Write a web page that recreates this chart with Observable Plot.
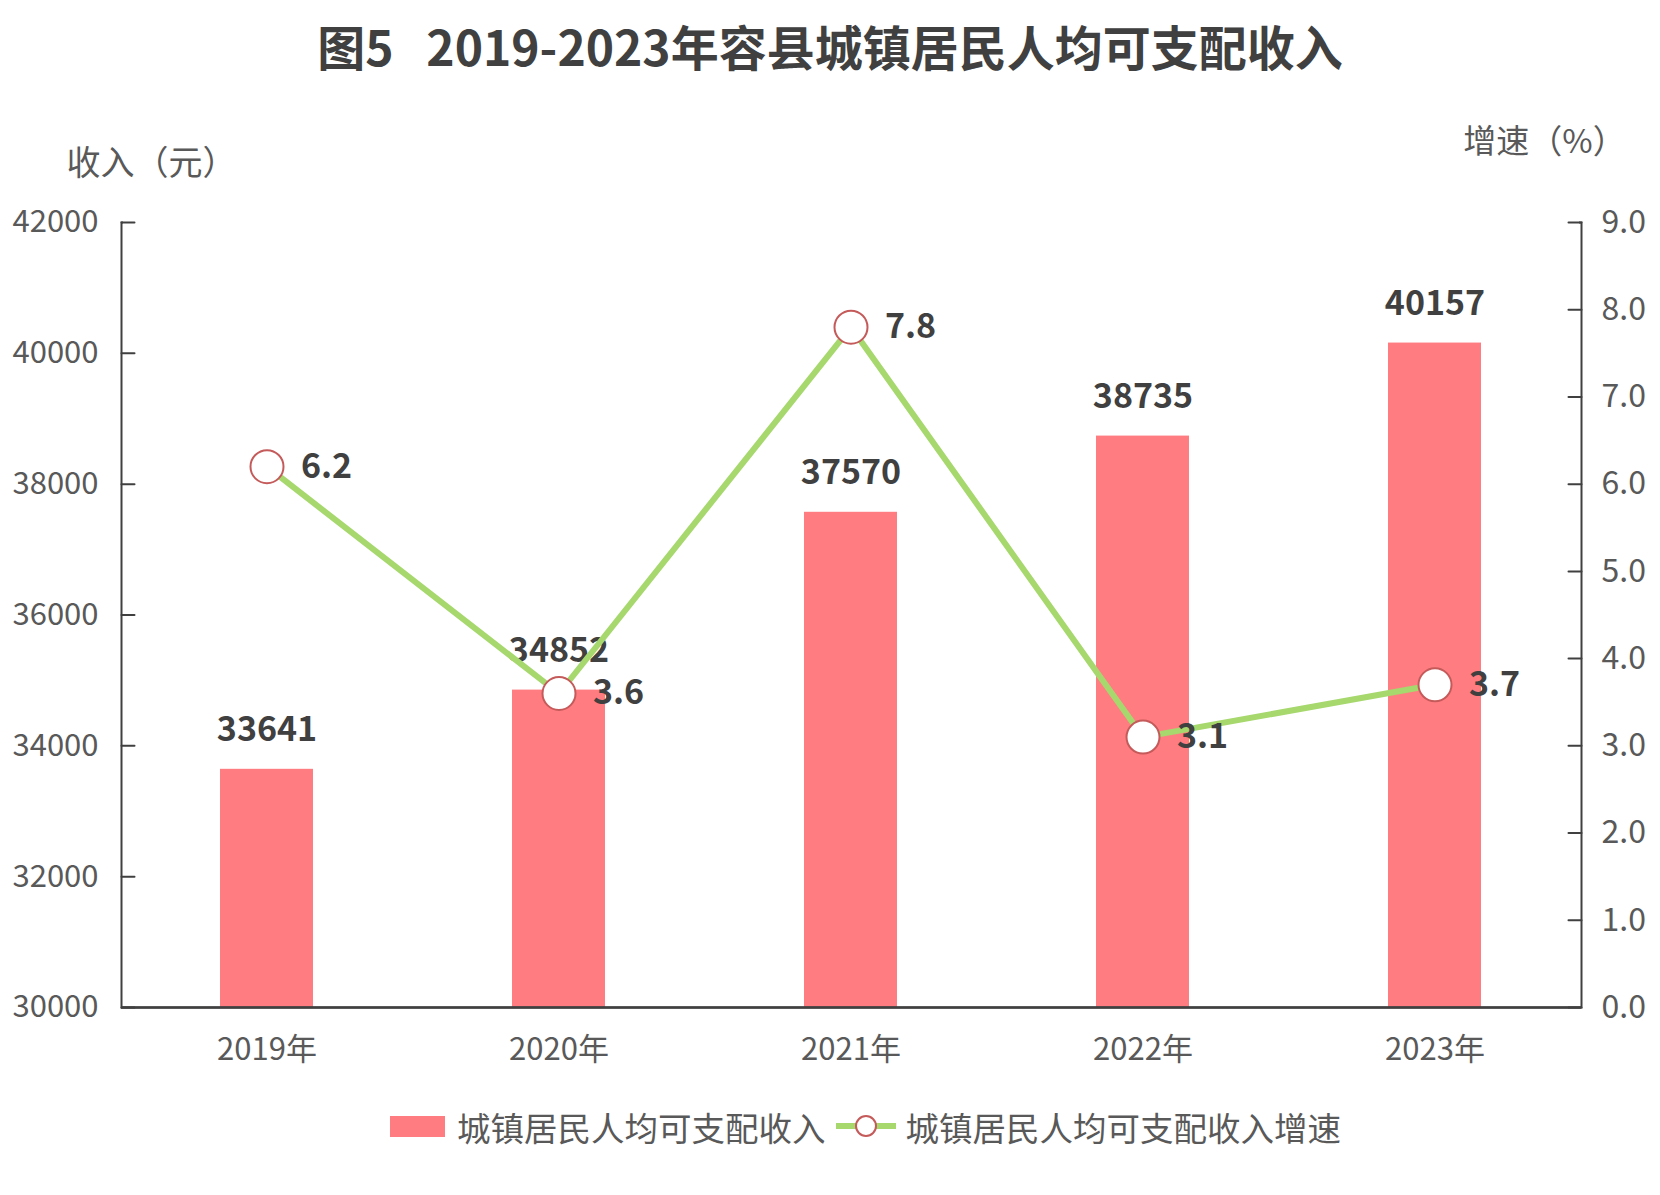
<!DOCTYPE html>
<html>
<head>
<meta charset="utf-8">
<script src="https://cdn.jsdelivr.net/npm/d3@7"></script>
<script src="https://cdn.jsdelivr.net/npm/@observablehq/plot@0.6"></script>
<style>
  html, body { margin: 0; padding: 0; background: #fff; }
  body { width: 1660px; height: 1195px; position: relative; font-family: "Noto Sans CJK SC", "Noto Sans", sans-serif; }
  #title { position: absolute; left: 0; top: 0; width: 1660px; height: 90px; line-height: 90px; text-align: center;
           font-size: 48px; font-weight: bold; color: #404040; white-space: pre; }
  #chart { position: absolute; left: 0; top: 96px; }
  #legend { position: absolute; left: 0; top: 1092px; width: 1660px; height: 68px; display: flex; align-items: center;
            font-size: 33.5px; color: #595959; }
  .sw-bar { width: 55px; height: 21px; background: #ff7c80; margin-left: 390px; margin-right: 12px; }
  .sw-line { position: relative; width: 60px; height: 30px; margin-left: 10px; margin-right: 10px; }
  .sw-line .ln { position: absolute; left: 0; top: 12px; width: 60px; height: 6px; background: #a6d86e; }
  .sw-line .ci { position: absolute; left: 19px; top: 4px; width: 18px; height: 18px; border: 2px solid #c55a5a; border-radius: 50%; background: #fff; }
</style>
</head>
<body>
<div id="title">图5   2019-2023年容县城镇居民人均可支配收入</div>
<div id="chart"></div>
<div id="legend">
  <div class="sw-bar"></div><span>城镇居民人均可支配收入</span>
  <div class="sw-line"><div class="ln"></div><div class="ci"></div></div><span>城镇居民人均可支配收入增速</span>
</div>
<script>
// ---- data ----
const years = ["2019年", "2020年", "2021年", "2022年", "2023年"];
const income = [33641, 34852, 37570, 38735, 40157];
const growth = [6.2, 3.6, 7.8, 3.1, 3.7];
const incomeTicks = [30000, 32000, 34000, 36000, 38000, 40000, 42000];
const growthTicks = [0, 1, 2, 3, 4, 5, 6, 7, 8, 9];
const incomeTitle = "收入（元）";
const growthTitle = "增速（%）";

const incomeMin = incomeTicks[0];
const incomeMax = incomeTicks[incomeTicks.length - 1];
const growthMax = growthTicks[growthTicks.length - 1];
const toY = g => incomeMin + g / growthMax * (incomeMax - incomeMin);
const fromY = v => (v - incomeMin) / (incomeMax - incomeMin) * growthMax;

const rows = years.map((year, i) => ({year, income: income[i], growth: growth[i]}));

const tickShape = {draw(context, l) { context.moveTo(0, 0); context.lineTo(0, -l); }};
const axisColor = "#404040";

const chart = Plot.plot({
  width: 1660,
  height: 1000,
  marginTop: 126,
  marginBottom: 89,
  marginLeft: 121,
  marginRight: 79,
  style: {fontFamily: '"Noto Sans CJK SC", "Noto Sans", sans-serif', fontSize: "31px", color: "#595959", background: "white"},
  x: {type: "band", domain: years, paddingInner: 0.68, paddingOuter: 0.34, label: null},
  y: {domain: [incomeMin, incomeMax], label: null},
  marks: [
    Plot.barY(rows, {x: "year", y1: () => incomeMin, y2: "income", fill: "#ff7c80"}),
    Plot.frame({stroke: axisColor, strokeWidth: 2}),
    Plot.ruleY([incomeMax], {stroke: "white", strokeWidth: 6, insetLeft: 2, insetRight: 2}),
    Plot.ruleY([incomeMin], {stroke: axisColor, strokeWidth: 2.5}),
    Plot.vector(incomeTicks, {y: d => d, frameAnchor: "left", rotate: 90, length: 13, anchor: "start", shape: tickShape, stroke: axisColor, strokeWidth: 2}),
    Plot.vector(growthTicks, {y: g => toY(g), frameAnchor: "right", rotate: -90, length: 13, anchor: "start", shape: tickShape, stroke: axisColor, strokeWidth: 2}),
    Plot.axisY(incomeTicks, {anchor: "left", tickSize: 0, tickPadding: 23, label: null, tickFormat: d => String(d)}),
    Plot.axisY(growthTicks.map(toY), {anchor: "right", tickSize: 0, tickPadding: 20, label: null, fontSize: 32, tickFormat: v => fromY(v).toFixed(1)}),
    Plot.axisX({tickSize: 0, tickPadding: 30, label: null}),
    Plot.text(rows, {x: "year", y: "income", text: d => String(d.income), dy: -39, lineAnchor: "middle", fontWeight: "bold", fontSize: 34, fill: "#404040"}),
    Plot.line(rows, {x: "year", y: d => toY(d.growth), stroke: "#a6d86e", strokeWidth: 6}),
    Plot.dot(rows, {x: "year", y: d => toY(d.growth), r: 16.5, fill: "white", stroke: "#c55a5a", strokeWidth: 2}),
    Plot.text(rows, {x: "year", y: d => toY(d.growth), text: d => d.growth.toFixed(1), dx: 34, textAnchor: "start", lineAnchor: "middle", fontWeight: "bold", fontSize: 34, fill: "#404040"}),
    Plot.text([incomeTitle], {text: d => d, frameAnchor: "top-left", textAnchor: "middle", dx: 30, dy: -72, fontSize: 34, fill: "#595959"}),
    Plot.text([growthTitle], {text: d => d, frameAnchor: "top-right", textAnchor: "middle", dx: -37, dy: -93, fontSize: 33, fill: "#595959"})
  ]
});
document.getElementById("chart").appendChild(chart);
</script>
</body>
</html>
